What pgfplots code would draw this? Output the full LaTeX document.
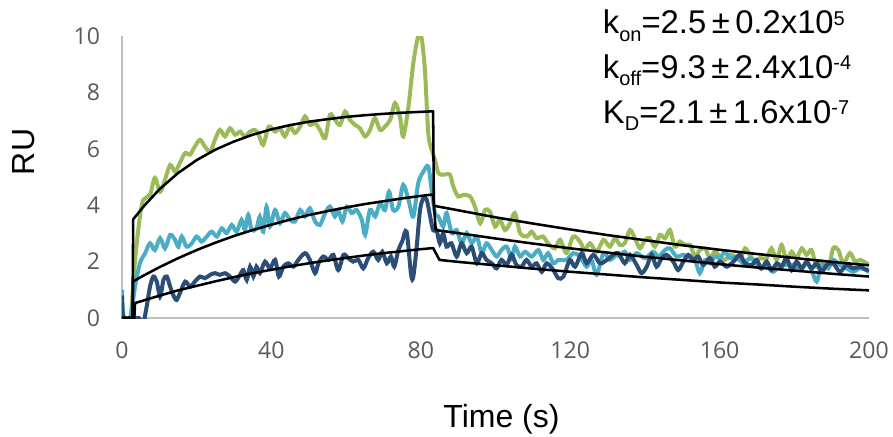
\documentclass[border=0pt]{standalone}
\usepackage{fontspec}
\setmainfont{Liberation Sans}
\newfontfamily\tickfont{Open Sans}
\usepackage{pgfplots}
\pgfplotsset{compat=1.18}

\definecolor{cgreen}{HTML}{9BBB59}
\definecolor{ccyan}{HTML}{4BACC6}
\definecolor{cnavy}{HTML}{2C4D75}
\definecolor{tickgray}{HTML}{595959}
\definecolor{axgray}{HTML}{BFBFBF}

\newcommand{\lowr}[1]{\raisebox{-5.8pt}{\fontsize{15}{16}\selectfont #1}}
\newcommand{\upr}[1]{\raisebox{6.2pt}{\fontsize{15}{16}\selectfont #1}}

\begin{document}
\begin{tikzpicture}
\useasboundingbox (-91.5pt,-88.5pt) rectangle (578.25pt,238.5pt);
\begin{axis}[
    scale only axis,
    width=560.25pt, height=211.5pt,
    xmin=0, xmax=200, ymin=0, ymax=10,
    axis lines*=left,
    axis line style={axgray, line width=1.5pt, -},
    xtick={0,40,...,200},
    ytick={0,2,...,10},
    major tick length=0pt,
    /pgf/number format/assume math mode=true,
    tick label style={font=\tickfont\fontsize{17.3}{20}\selectfont, text=tickgray},
    xticklabel style={yshift=-14pt},
    yticklabel style={xshift=-13pt},
    xlabel={Time (s)},
    ylabel={RU},
    label style={font=\fontsize{24}{28}\selectfont},
    xlabel style={at={(axis description cs:0.508,-0.390)}, anchor=base},
    ylabel style={at={(axis description cs:-0.1321,0.589)}, anchor=center},
    every axis plot/.append style={no markers},
]
% measured traces
\addplot[cgreen, line width=3pt, smooth] coordinates {
(0,0) (2.2,0) (3.5,2.06) (4.8,3.6) (5.7,4.19) (7.5,4.37) (8.8,4.97) (10.2,4.48)
(11.5,4.9) (12.9,5.43) (14.2,5.19) (15.5,5.5) (16.9,5.85) (18.2,5.79) (19.5,6.08)
(20.9,6.32) (22.2,6.08) (23.6,5.9) (24.9,6.32) (26.2,6.67) (27.6,6.44) (28.9,6.73)
(30.3,6.5) (31.6,6.61) (32.9,6.44) (34.3,6.61) (35.6,6.67) (36.6,6.5) (37.8,6.14)
(39.3,6.79) (41.0,6.61) (42.3,6.73) (43.6,6.44) (45.0,6.79) (46.3,6.56) (47.7,6.79)
(49.0,7.15) (50.3,6.85) (51.7,6.91) (53.0,6.67) (54.4,6.38) (55.7,7.21) (57.0,7.03)
(58.4,6.85) (59.7,7.32) (61.0,7.03) (62.4,6.85) (63.7,6.73) (65.1,6.44) (66.4,6.67)
(67.7,7.09) (69.1,6.67) (70.4,6.79) (71.8,7.03) (73.1,7.62) (74.4,7.15) (75.3,6.44)
(76.7,7.5) (78.0,9.04) (79.3,9.99) (80.2,9.93) (81.1,8.8) (82.0,6.56) (82.9,5.96)
(83.8,5.61) (84.7,5.14) (86.0,5.08) (87.8,5.08) (88.7,4.66) (90.0,4.31) (91.4,4.37)
(93.2,4.31) (94.5,3.95) (95.9,3.36) (97.2,3.83) (98.5,3.77) (99.9,3.24) (101.2,3.48)
(102.5,3.12) (103.9,3.36) (105.2,3.72) (106.6,3.01) (108.4,2.89) (109.7,3.06)
(111.0,2.83) (112.7,2.89) (114.1,2.65) (115.9,2.47) (117.3,2.77) (119.0,2.3)
(120.8,2.89) (122.6,2.71) (123.9,2.41) (125.3,2.65) (127.1,2.35) (128.9,2.77)
(130.6,2.53) (132.0,2.83) (133.3,2.59) (134.6,2.65) (136.0,3.12) (137.3,2.83)
(138.7,2.47) (140.0,2.77) (141.3,2.83) (142.7,2.53) (144.0,2.95) (145.4,2.83)
(146.7,3.12) (148.0,2.53) (149.4,2.71) (150.7,2.59) (152.1,2.59) (153.4,2.18)
(154.7,2.41) (156.1,2.47) (157.4,2.12) (158.7,2.35) (160.1,2.18) (161.4,2.06)
(162.8,2.24) (164.1,2.18) (165.4,2.06) (166.8,2.47) (168.1,2.24) (169.5,2.0)
(170.8,2.12) (172.6,2.12) (173.9,2.47) (175.3,2.06) (176.6,2.59) (177.9,2.06)
(179.3,2.35) (180.6,2.12) (182.0,2.47) (183.3,2.24) (184.6,2.41) (186.0,1.82)
(187.3,2.0) (189.1,1.76) (190.4,2.47) (191.8,2.41) (193.1,1.94) (194.9,2.3)
(196.3,2.0) (197.6,2.06) (199.4,1.94) (200,1.85)
};
\addplot[ccyan, line width=3pt, smooth] coordinates {
(0,1.0) (0.5,0) (2.2,0) (3.5,1.11) (4.8,1.94) (6.2,2.3) (7.5,2.65) (8.8,2.41)
(10.2,2.83) (11.5,2.47) (12.9,2.95) (14.2,2.77) (15.1,2.53) (16.0,2.89) (17.3,2.53)
(18.7,2.65) (20.0,2.89) (21.3,2.71) (22.7,2.89) (24.0,3.06) (25.4,2.89) (26.7,3.18)
(28.0,3.01) (29.4,3.3) (30.7,3.06) (32.0,3.48) (32.9,3.12) (33.8,3.66) (34.7,3.12)
(36.0,3.18) (36.9,3.6) (37.8,3.06) (38.7,3.95) (39.6,3.24) (41.0,3.83) (42.3,3.36)
(43.6,3.72) (45.0,3.48) (46.3,3.42) (47.7,3.83) (49.0,3.6) (50.3,3.89) (51.7,3.42)
(53.0,3.3) (54.4,3.72) (55.7,3.95) (57.0,3.6) (57.9,3.83) (59.0,3.42) (60.2,3.95)
(61.5,3.72) (62.8,3.83) (64.2,3.48) (65.1,2.95) (66.4,3.83) (67.8,3.6) (69.1,4.07)
(70.4,3.83) (71.5,4.48) (72.6,3.83) (74.0,3.95) (75.3,4.72) (76.7,4.19) (78.0,3.6)
(79.3,4.78) (80.7,5.19) (82.0,5.37) (82.9,4.54) (83.8,3.72) (84.7,3.6) (86.0,3.24)
(86.9,3.72) (88.3,3.01) (89.6,3.12) (90.9,2.65) (92.3,3.01) (93.6,2.65) (95.0,2.89)
(96.3,2.3) (97.6,2.65) (99.0,2.41) (100.3,2.18) (101.6,2.41) (103.0,2.53) (104.3,2.12)
(105.2,2.53) (106.6,2.18) (107.9,2.35) (109.7,2.18) (111.5,2.41) (112.8,2.06)
(114.1,2.3) (115.5,1.94) (116.8,2.06) (119.0,2.06) (120.8,2.3) (122.6,2.18)
(124.4,1.82) (125.7,2.06) (127.1,1.53) (128.9,2.3) (130.6,2.06) (132.4,2.24)
(133.3,2.18) (134.6,2.35) (136.0,2.06) (137.8,2.3) (140.0,2.12) (142.2,2.35)
(143.6,2.18) (145.4,2.41) (146.7,2.47) (148.5,2.18) (150.3,2.24) (152.1,2.12)
(153.4,2.06) (154.7,1.59) (156.1,2.06) (157.4,1.94) (158.7,2.18) (160.1,2.12)
(161.4,2.35) (162.8,2.12) (164.6,2.18) (166.3,1.94) (168.1,2.12) (169.5,2.0)
(170.8,1.76) (172.6,1.82) (174.4,1.64) (176.2,1.88) (177.9,1.88) (179.7,1.88)
(181.5,1.7) (183.3,1.94) (184.6,1.7) (186.0,1.29) (187.3,1.88) (189.1,1.76)
(190.4,2.06) (192.2,1.88) (194.0,1.76) (195.8,1.64) (197.6,1.76) (199.4,1.7) (200,1.6)
};
\addplot[cnavy, line width=3pt, smooth] coordinates {
(0,0.8) (0.5,0) (4.5,0) (5.5,-0.3) (6.6,0.4) (7.5,1.11) (8.4,1.47) (9.3,1.29)
(10.2,0.76) (11.1,1.35) (12.0,1.47) (12.9,1.11) (13.7,0.82) (14.6,0.64) (15.5,0.88)
(16.9,1.29) (18.2,1.11) (19.5,1.29) (20.9,1.47) (22.2,1.41) (23.6,1.53) (24.9,1.59)
(26.2,1.53) (27.6,1.59) (28.9,1.47) (30.3,1.29) (31.6,1.53) (32.5,1.7) (33.4,1.35)
(34.3,1.82) (35.2,1.47) (36.0,1.82) (36.9,1.59) (38.3,2.0) (39.6,1.76) (41.0,2.06)
(42.0,1.47) (43.2,1.82) (44.5,1.94) (45.9,1.82) (47.2,2.06) (49.0,2.3) (50.3,2.06)
(51.7,1.59) (52.6,1.94) (53.9,2.18) (55.3,2.06) (56.6,2.24) (57.9,1.7) (59.3,2.24)
(60.6,2.12) (61.9,2.0) (63.3,2.06) (64.6,1.76) (65.9,2.12) (67.3,2.35) (68.6,2.06)
(69.7,2.35) (70.9,1.94) (72.0,2.18) (72.9,1.82) (74.0,2.41) (75.0,2.71) (76.2,3.06)
(77.4,1.53) (78.0,1.47) (78.9,2.53) (79.8,3.83) (80.7,4.25) (81.6,4.19) (82.5,3.6)
(83.3,3.12) (84.2,3.12) (85.1,2.65) (86.0,3.01) (86.9,2.53) (88.2,2.65) (89.6,2.18)
(90.9,2.65) (92.3,2.3) (93.6,2.53) (95.0,1.94) (96.3,2.3) (97.6,2.06) (99.0,1.94)
(100.3,1.76) (101.6,2.06) (103.0,1.88) (104.3,2.24) (105.6,1.88) (107.0,1.82)
(108.3,2.06) (109.7,1.82) (111.0,1.94) (112.4,1.64) (113.7,1.94) (115.5,1.7)
(116.8,1.41) (118.2,1.47) (119.9,2.06) (121.3,1.82) (123.1,2.3) (124.4,1.94)
(126.2,2.24) (128.0,1.94) (129.8,2.06) (131.5,2.24) (132.9,2.3) (134.6,1.94)
(136.0,2.24) (137.8,1.88) (139.1,1.59) (140.5,1.82) (141.8,2.24) (143.1,1.82)
(144.5,2.12) (145.8,2.24) (147.6,2.0) (148.9,1.7) (150.3,2.0) (151.6,2.24)
(153.0,2.06) (154.3,2.18) (155.6,1.88) (157.4,2.12) (158.7,1.82) (160.1,2.0)
(161.9,1.82) (163.7,2.0) (165.4,2.24) (166.8,1.94) (168.6,1.88) (169.9,2.06)
(171.2,1.76) (172.6,2.0) (173.9,1.7) (175.3,1.94) (176.6,1.82) (177.9,2.12)
(179.3,1.7) (180.6,2.0) (182.0,1.76) (183.3,2.0) (184.6,1.76) (186.0,1.94)
(187.3,1.64) (188.7,1.88) (190.4,1.94) (192.2,1.64) (194.0,1.88) (195.8,1.76)
(197.6,1.82) (199.4,1.7) (200,1.74)
};
% global 1:1 fits
\addplot[black, line width=1.9pt, line join=round] coordinates {
(0,0) (2.8,0) (3,3.5) (6,3.99) (10,4.56) (15,5.14) (20,5.6) (25,5.97) (30,6.26)
(35,6.5) (40,6.69) (45,6.84) (50,6.96) (55,7.05) (60,7.13) (65,7.19) (70,7.24)
(75,7.28) (80,7.31) (83.3,7.33) (83.5,3.98) (90,3.82) (100,3.57) (110,3.35)
(120,3.14) (130,2.94) (140,2.76) (150,2.58) (160,2.42) (170,2.27) (180,2.13)
(190,1.99) (200,1.87)
};
\addplot[black, line width=1.9pt, line join=round] coordinates {
(0,0) (2.8,0) (3,1.3) (6,1.52) (10,1.8) (15,2.12) (20,2.41) (25,2.67) (30,2.91)
(35,3.12) (40,3.31) (45,3.49) (50,3.65) (55,3.79) (60,3.92) (65,4.04) (70,4.14)
(75,4.24) (80,4.33) (83.3,4.38) (84.0,3.12) (90,3.01) (100,2.82) (110,2.64)
(120,2.47) (130,2.32) (140,2.17) (150,2.04) (160,1.91) (170,1.79) (180,1.68)
(190,1.57) (200,1.47)
};
\addplot[black, line width=1.9pt, line join=round] coordinates {
(0,0) (3.3,0) (3.5,0.53) (6,0.63) (10,0.79) (15,0.98) (20,1.14) (25,1.3) (30,1.45)
(35,1.59) (40,1.71) (45,1.83) (50,1.94) (55,2.04) (60,2.13) (65,2.22) (70,2.3)
(75,2.37) (80,2.44) (83.3,2.48) (85,2.06) (90,1.99) (100,1.87) (110,1.75)
(120,1.64) (130,1.54) (140,1.44) (150,1.35) (160,1.26) (170,1.19) (180,1.11)
(190,1.04) (200,0.98)
};
\end{axis}
\begin{scope}[every node/.style={anchor=base west, inner sep=0pt, font=\fontsize{24.6}{28}\selectfont}]
\node at (360.5pt,213pt) {k\lowr{on}=2.5\,±\,0.2x10\upr{5}};
\node at (360.5pt,179.8pt) {k\lowr{off}=9.3\,±\,2.4x10\upr{-4}};
\node at (360.5pt,146.25pt) {K\lowr{D}=2.1\,±\,1.6x10\upr{-7}};
\end{scope}
\end{tikzpicture}
\end{document}
